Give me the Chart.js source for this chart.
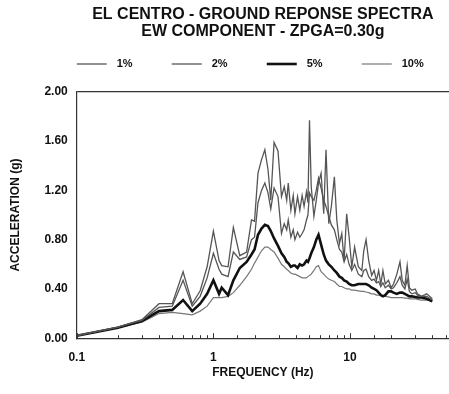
<!DOCTYPE html>
<html>
<head>
<meta charset="utf-8">
<title>El Centro - Ground Reponse Spectra</title>
<script src="https://cdn.jsdelivr.net/npm/chart.js@4.4.0/dist/chart.umd.min.js"></script>
<style>
  html, body { margin: 0; padding: 0; background: #fff; }
  #wrap { width: 449px; height: 394px; }
</style>
</head>
<body>
<div id="wrap"><canvas id="grafico-espectro"></canvas></div>
<script>
// --- DADOS ---
const frequencias = [
    0.1, 0.2, 0.3, 0.4, 0.5, 0.6, 0.7, 0.8, 0.9, 1.0,
    1.1, 1.15, 1.28, 1.4, 1.56, 1.75, 1.9, 2.0, 2.12, 2.25,
    2.38, 2.51, 2.63, 2.78, 2.97, 3.15, 3.3, 3.44, 3.53, 3.69,
    3.84, 3.95, 4.13, 4.29, 4.46, 4.61, 4.8, 4.92, 5.05, 5.2,
    5.44, 5.66, 5.88, 6.14, 6.42, 6.67, 6.99, 7.3, 7.68, 8.0,
    8.37, 8.7, 9.05, 9.45, 9.85, 10.3, 10.8, 11.5, 12.2, 12.6,
    13.1, 13.7, 14.4, 15.0, 15.6, 16.2, 16.8, 17.4, 18.1, 19.1,
    20.0, 20.8, 22.0, 23.2, 24.1, 25.2, 26.2, 27.2, 28.3, 30.0,
    31.1, 33.4, 36.4, 40.0
];

const acel1 = [
    0.02, 0.09, 0.15, 0.28, 0.28, 0.54, 0.28, 0.385, 0.58, 0.87,
    0.63, 0.59, 0.58, 0.90, 0.67, 0.70, 0.96, 0.95, 1.34, 1.45,
    1.53, 1.37, 1.12, 1.59, 1.52, 1.15, 1.23, 1.12, 1.26, 1.04,
    1.16, 1.01, 1.15, 1.04, 1.16, 1.07, 1.19, 1.10, 1.77, 1.23,
    0.99, 1.12, 1.26, 1.34, 1.01, 1.53, 0.93, 1.07, 1.31, 0.96,
    0.77, 0.85, 0.63, 1.01, 0.82, 0.58, 0.74, 0.58, 0.55, 0.71,
    0.80, 0.63, 0.51, 0.55, 0.47, 0.55, 0.44, 0.55, 0.44, 0.47,
    0.41, 0.44, 0.52, 0.62, 0.47, 0.43, 0.59, 0.41, 0.39, 0.40,
    0.36, 0.34, 0.36, 0.32
];

const acel2 = [
    0.02, 0.09, 0.145, 0.25, 0.26, 0.47, 0.26, 0.34, 0.49, 0.69,
    0.56, 0.52, 0.50, 0.70, 0.64, 0.66, 0.80, 0.82, 1.10, 1.20,
    1.26, 1.18, 1.05, 1.22, 1.15, 0.85, 0.93, 0.88, 0.96, 0.82,
    0.88, 0.80, 0.86, 0.82, 0.85, 0.88, 0.96, 1.00, 1.18, 1.15,
    1.12, 1.20, 1.30, 1.22, 1.12, 1.07, 0.99, 0.92, 0.88, 0.80,
    0.72, 0.70, 0.62, 0.68, 0.60, 0.55, 0.60, 0.52, 0.50, 0.55,
    0.56, 0.50, 0.47, 0.48, 0.45, 0.46, 0.42, 0.45, 0.41, 0.43,
    0.40, 0.41, 0.45, 0.50, 0.43, 0.40, 0.48, 0.38, 0.36, 0.37,
    0.35, 0.34, 0.34, 0.31
];

const acel5 = [
    0.02, 0.085, 0.14, 0.22, 0.23, 0.31, 0.22, 0.28, 0.36, 0.47,
    0.36, 0.41, 0.35, 0.47, 0.57, 0.62, 0.68, 0.72, 0.84, 0.89,
    0.92, 0.91, 0.87, 0.81, 0.75, 0.69, 0.66, 0.62, 0.61, 0.58,
    0.59, 0.59, 0.57, 0.60, 0.59, 0.60, 0.63, 0.62, 0.65, 0.69,
    0.74, 0.80, 0.84, 0.76, 0.68, 0.63, 0.60, 0.58, 0.55, 0.53,
    0.50, 0.49, 0.47, 0.46, 0.44, 0.43, 0.43, 0.44, 0.44, 0.44,
    0.44, 0.43, 0.41, 0.40, 0.39, 0.37, 0.35, 0.34, 0.35, 0.38,
    0.38, 0.37, 0.36, 0.37, 0.37, 0.36, 0.35, 0.34, 0.34, 0.335,
    0.33, 0.33, 0.32, 0.30
];

const acel10 = [
    0.02, 0.085, 0.13, 0.20, 0.21, 0.20, 0.19, 0.22, 0.26, 0.33,
    0.33, 0.33, 0.34, 0.37, 0.43, 0.50, 0.56, 0.61, 0.66, 0.71,
    0.74, 0.74, 0.72, 0.70, 0.65, 0.60, 0.58, 0.56, 0.55, 0.53,
    0.52, 0.52, 0.51, 0.50, 0.49, 0.49, 0.49, 0.50, 0.51, 0.52,
    0.55, 0.58, 0.59, 0.54, 0.52, 0.50, 0.48, 0.47, 0.46, 0.44,
    0.42, 0.42, 0.41, 0.40, 0.40, 0.39, 0.39, 0.385, 0.38, 0.38,
    0.375, 0.37, 0.36, 0.36, 0.35, 0.35, 0.345, 0.34, 0.34, 0.335,
    0.33, 0.33, 0.33, 0.33, 0.33, 0.325, 0.325, 0.32, 0.32, 0.32,
    0.315, 0.31, 0.31, 0.30
];

const rotulosSeries = ['1%', '2%', '5%', '10%'];
const rotulosX = ['0.1', '1', '10'];
const titulo = ['EL CENTRO - GROUND REPONSE SPECTRA', 'EW COMPONENT - ZPGA=0.30g'];

const ehDecada = (v) => {
    const l = Math.log10(v);
    return Math.abs(l - Math.round(l)) < 1e-6;
};

// --- LEGENDA EM LINHA (espaçamento fixo como no original) ---
const legendaLinhas = {
    id: 'legendaLinhas',
    afterDraw(chart) {
        const { ctx, chartArea } = chart;
        ctx.save();
        ctx.font = 'bold 11px "Liberation Sans", Arial, sans-serif';
        ctx.textBaseline = 'middle';
        chart.data.datasets.forEach((ds, i) => {
            const x = chartArea.left + i * 95;
            const y = 64;
            ctx.strokeStyle = ds.borderColor;
            ctx.lineWidth = ds.borderWidth;
            ctx.beginPath();
            ctx.moveTo(x, y);
            ctx.lineTo(x + 30, y);
            ctx.stroke();
            ctx.fillStyle = '#111';
            ctx.fillText(ds.label, x + 40, y);
        });
        ctx.restore();
    }
};

// --- TICKS DO EIXO X PARA DENTRO ---
const ticksInternos = {
    id: 'ticksInternos',
    afterDatasetsDraw(chart) {
        const { ctx, chartArea } = chart;
        const escala = chart.scales.x;
        ctx.save();
        ctx.strokeStyle = '#333';
        ctx.lineWidth = 1;
        escala.ticks.forEach(t => {
            const px = Math.round(escala.getPixelForValue(t.value)) + 0.5;
            const alto = ehDecada(t.value) ? 5 : 3;
            ctx.beginPath();
            ctx.moveTo(px, chartArea.bottom);
            ctx.lineTo(px, chartArea.bottom - alto);
            ctx.stroke();
        });
        ctx.restore();
    }
};

Chart.defaults.font.family = '"Liberation Sans", Arial, Helvetica, sans-serif';
Chart.defaults.font.weight = 'bold';
Chart.defaults.color = '#111';

const pontos = (valores) => frequencias.map((f, i) => ({ x: f, y: valores[i] }));

const ctx = document.getElementById('grafico-espectro').getContext('2d');
window.espectroChart = new Chart(ctx, {
    type: 'line',
    data: {
        datasets: [
            { label: rotulosSeries[0], data: pontos(acel1), borderColor: '#555', borderWidth: 1.3 },
            { label: rotulosSeries[1], data: pontos(acel2), borderColor: '#555', borderWidth: 1.3 },
            { label: rotulosSeries[2], data: pontos(acel5), borderColor: '#111', borderWidth: 2.6 },
            { label: rotulosSeries[3], data: pontos(acel10), borderColor: '#777', borderWidth: 1.2 }
        ]
    },
    options: {
        responsive: true, maintainAspectRatio: false, animation: false,
        elements: { point: { radius: 0 }, line: { tension: 0 } },
        layout: { padding: 0, autoPadding: false },
        plugins: {
            legend: { display: false },
            tooltip: { enabled: false },
            title: {
                display: true, fullSize: false, text: titulo,
                font: { size: 16, weight: 'bold', lineHeight: 1.06 },
                padding: { top: 6, bottom: 52 }
            }
        },
        scales: {
            x: {
                type: 'logarithmic', min: 0.1, max: 53,
                ticks: {
                    autoSkip: false, maxRotation: 0, padding: 0,
                    font: { size: 12, weight: 'bold' },
                    callback: (v) => ehDecada(v) ? (rotulosX[Math.round(Math.log10(v)) + 1] || '') : ''
                },
                grid: { drawOnChartArea: false, drawTicks: true, tickLength: 12, tickColor: 'rgba(0,0,0,0)' },
                border: { display: true, color: '#333', width: 1.2 },
                title: {
                    display: true, text: 'FREQUENCY (Hz)',
                    font: { size: 12, weight: 'bold' },
                    padding: { top: 1, bottom: 14 }
                }
            },
            y: {
                min: 0, max: 2,
                ticks: {
                    stepSize: 0.4, padding: 9,
                    font: { size: 12, weight: 'bold' },
                    callback: (v) => v.toFixed(2)
                },
                grid: {
                    drawTicks: false,
                    color: (c) => (c.tick && Math.abs(c.tick.value - 2) < 1e-6) ? '#333' : 'rgba(0,0,0,0)',
                    lineWidth: 1.2
                },
                border: { display: true, color: '#333', width: 1.2 },
                title: {
                    display: true, text: 'ACCELERATION (g)',
                    font: { size: 12, weight: 'bold' },
                    padding: { top: 8, bottom: 13 }
                }
            }
        }
    },
    plugins: [legendaLinhas, ticksInternos]
});
</script>
</body>
</html>
